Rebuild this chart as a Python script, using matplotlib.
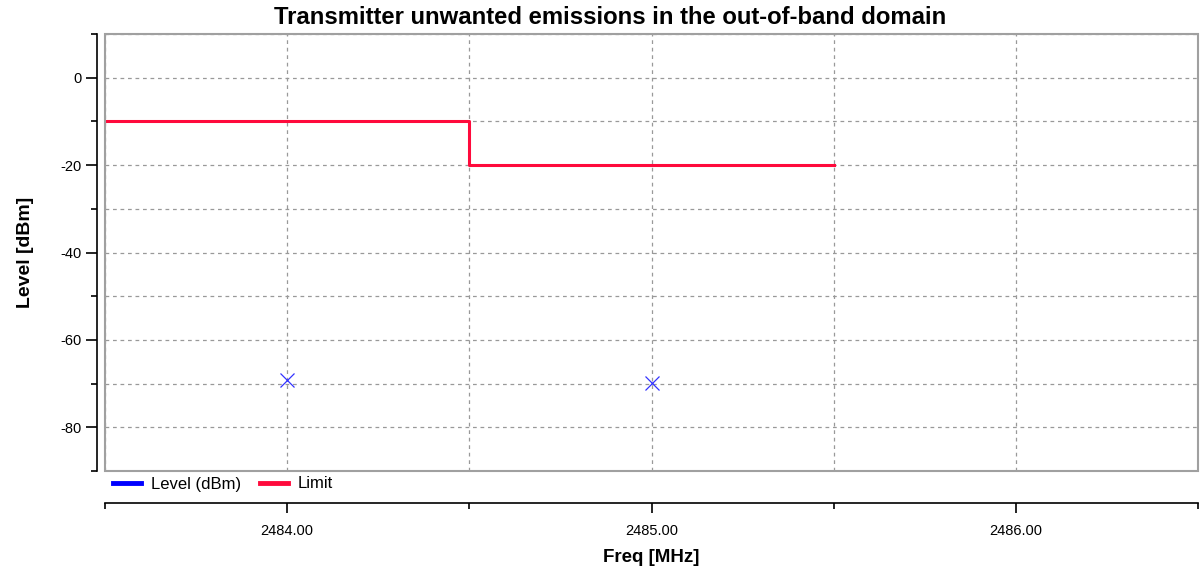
import matplotlib.pyplot as plt
from matplotlib.patches import Rectangle
from matplotlib.lines import Line2D
import numpy as np

plt.rcParams['font.family'] = ['Liberation Sans', 'DejaVu Sans']
plt.rcParams['axes.unicode_minus'] = False

# measured points
freq = [2484.0, 2485.0]
level = [-69.2, -69.9]

# limit line (step)
limit_freq = [2483.5, 2484.5, 2484.5, 2485.5]
limit_level = [-10, -10, -20, -20]

fig = plt.figure(figsize=(12, 5.72), dpi=100)
ax = fig.add_axes([105 / 1200, 1 - 471 / 572, (1198 - 105) / 1200, (471 - 34) / 572])

ax.plot(limit_freq, limit_level, color='#ff0a3c', linewidth=2.2, zorder=3)
ax.plot(freq, level, linestyle='none', marker='x', color='#3333ff',
        markersize=10, markeredgewidth=0.9, zorder=4)

ax.set_xlim(2483.5, 2486.5)
ax.set_ylim(-90, 10)

ax.set_xticks([2484, 2485, 2486])
ax.set_xticks([2483.5, 2484.5, 2485.5, 2486.5], minor=True)
ax.set_xticklabels(['2484.00', '2485.00', '2486.00'])
ax.set_yticks(np.arange(-80, 1, 20))
ax.set_yticks(np.arange(-90, 11, 20), minor=True)

ax.grid(True, which='both', color='#999999', linestyle=(0, (3, 3)), linewidth=0.9)

# gray frame around the plot area
ax.add_patch(Rectangle((0, 0), 1, 1, transform=ax.transAxes, fill=False,
                       edgecolor='#a0a0a0', linewidth=1.5, clip_on=False, zorder=5))

for s in ['top', 'right']:
    ax.spines[s].set_visible(False)
ax.spines['left'].set_position(('outward', 6))
ax.spines['left'].set_color('black')
ax.spines['left'].set_linewidth(1.2)
ax.spines['bottom'].set_position(('outward', 23))
ax.spines['bottom'].set_color('black')
ax.spines['bottom'].set_linewidth(1.2)

ax.tick_params(axis='y', which='major', length=8, width=1.2, labelsize=10.5, pad=3)
ax.tick_params(axis='y', which='minor', length=4, width=1.2)
ax.tick_params(axis='x', which='major', length=7, width=1.2, labelsize=10.5, pad=8)
ax.tick_params(axis='x', which='minor', length=4, width=1.2)

ax.set_xlabel('Freq [MHz]', fontsize=13.5, fontweight='bold', labelpad=8)
ax.set_ylabel('Level [dBm]', fontsize=14, fontweight='bold', labelpad=19)
fig.text(610 / 1200, 1 - 18 / 572, 'Transmitter unwanted emissions in the out-of-band domain',
         ha='center', va='center', fontsize=17.2, fontweight='bold')

handles = [Line2D([], [], color='#0000ff', linewidth=3.5),
           Line2D([], [], color='#ff0a3c', linewidth=3.5)]
fig.legend(handles, ['Level (dBm)', 'Limit'], loc='center left',
           bbox_to_anchor=(113 / 1200, 1 - 484 / 572), ncol=2, frameon=False,
           fontsize=12, handlelength=1.7, handletextpad=0.6, columnspacing=1.1,
           borderaxespad=0, borderpad=0)

fig.savefig('out.png', dpi=100)
